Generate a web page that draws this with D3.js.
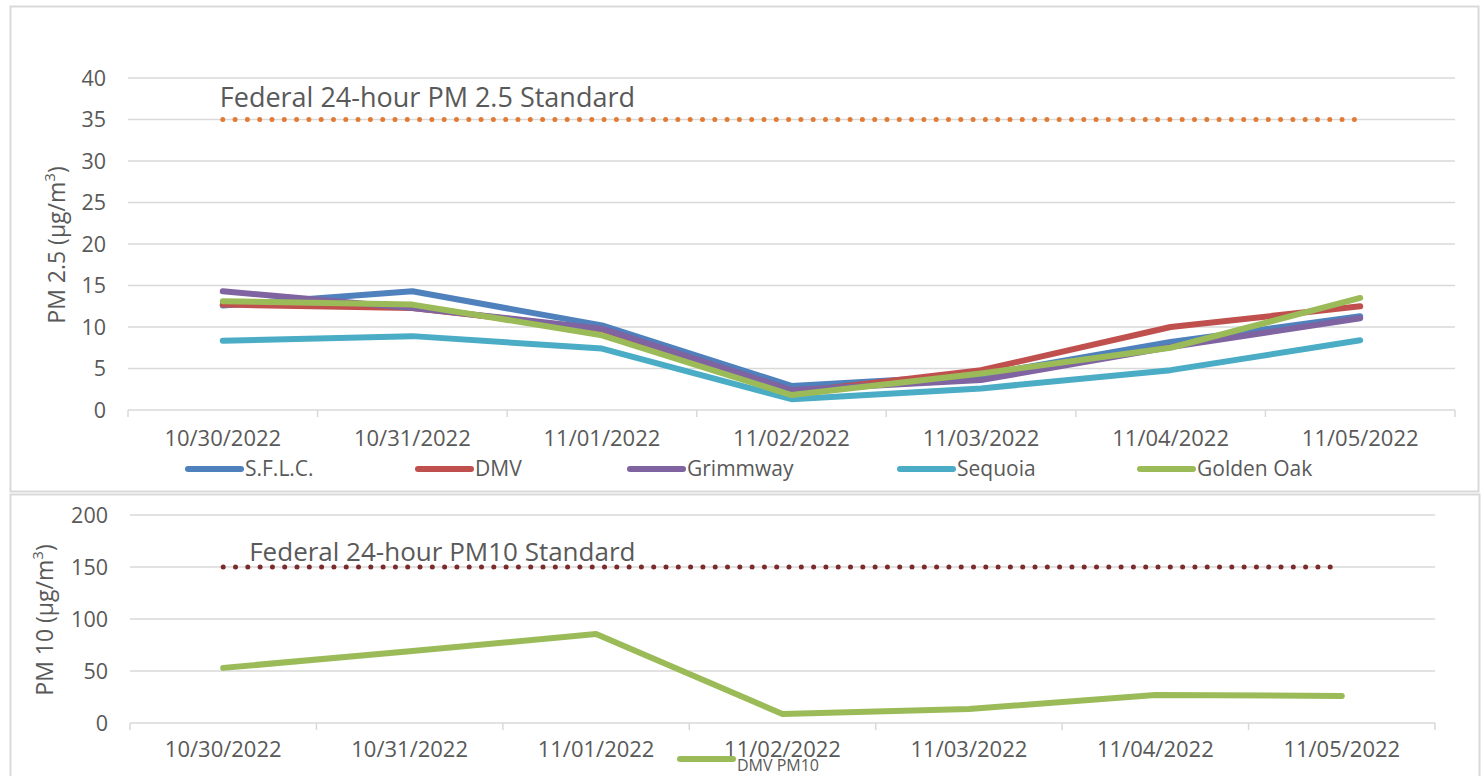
<!DOCTYPE html>
<html>
<head>
<meta charset="utf-8">
<script src="https://cdn.jsdelivr.net/npm/d3@7"></script>
<style>
  body { margin: 0; background: #fff; }
  text { font-family: "Open Sans", sans-serif; fill: #595959; }
</style>
</head>
<body>
<div id="chart-area"></div>
<script>
// data
var dates = ["10/30/2022", "10/31/2022", "11/01/2022", "11/02/2022", "11/03/2022", "11/04/2022", "11/05/2022"]
var sites = ["S.F.L.C.", "DMV", "Grimmway", "Sequoia", "Golden Oak"]
var sflc = [12.6, 14.3, 10.2, 2.9, 4.2, 8.2, 11.3]
var dmv = [12.7, 12.3, 9.7, 2.1, 4.8, 10.0, 12.5]
var grimmway = [14.3, 12.3, 9.8, 2.4, 3.6, 7.6, 11.05]
var sequoia = [8.35, 8.9, 7.4, 1.3, 2.6, 4.8, 8.4]
var goldenOak = [13.1, 12.7, 9.0, 1.8, 4.4, 7.5, 13.5]
var pm10 = [53, 69, 85.5, 8.7, 13.5, 27, 26]
var pm25Standard = 35
var pm10Standard = 150
var pm25Ticks = [0, 5, 10, 15, 20, 25, 30, 35, 40]
var pm10Ticks = [0, 50, 100, 150, 200]

var seriesValues = [sflc, dmv, grimmway, sequoia, goldenOak]
var colors = ["#4F81BD", "#C0504D", "#8064A2", "#4BACC6", "#9BBB59"]

var svg = d3.select("#chart-area")
    .append("svg")
    .attr("width", 1484)
    .attr("height", 776)

// panel frames
svg.append("rect")
    .attr("x", 10.5).attr("y", 6.5)
    .attr("width", 1468).attr("height", 485)
    .attr("fill", "none").attr("stroke", "#d9d9d9").attr("stroke-width", 2)
svg.append("rect")
    .attr("x", 10.5).attr("y", 494.5)
    .attr("width", 1469).attr("height", 300)
    .attr("fill", "none").attr("stroke", "#d9d9d9").attr("stroke-width", 2)

function drawPanel(opts) {
    var g = svg.append("g")
    var x = d3.scaleBand().domain(dates).range([opts.left, opts.right])
    var y = d3.scaleLinear().domain([0, opts.max]).range([opts.bottom, opts.top])

    // gridlines
    g.selectAll(".grid")
        .data(opts.ticks)
        .enter().append("line")
        .attr("x1", opts.left).attr("x2", opts.right)
        .attr("y1", d => y(d)).attr("y2", d => y(d))
        .attr("stroke", "#d9d9d9").attr("stroke-width", 1.5)

    // y tick labels
    g.selectAll(".ylab")
        .data(opts.ticks)
        .enter().append("text")
        .attr("x", opts.left - 22)
        .attr("y", d => y(d))
        .attr("dy", "0.35em")
        .attr("text-anchor", "end")
        .attr("font-size", "21.5px")
        .text(d => d)

    // x axis with tick marks at band edges
    var xAxis = g.append("g")
        .attr("transform", "translate(0," + opts.bottom + ")")
        .call(d3.axisBottom(x).tickSize(0).tickPadding(opts.labelPad))
    xAxis.select(".domain").remove()
    xAxis.selectAll("text")
        .attr("font-size", "22px")
        .attr("font-family", "Open Sans, sans-serif")
        .attr("fill", "#595959")
    var edges = dates.map(d => x(d)).concat([opts.right])
    g.selectAll(".xtick")
        .data(edges)
        .enter().append("line")
        .attr("x1", d => d).attr("x2", d => d)
        .attr("y1", opts.bottom).attr("y2", opts.bottom + 7)
        .attr("stroke", "#d9d9d9").attr("stroke-width", 1.5)

    // y axis title
    g.append("text")
        .attr("transform", "translate(" + opts.titleX + "," + opts.titleY + ") rotate(-90)")
        .attr("text-anchor", "middle")
        .attr("font-size", "23px")
        .html(opts.title)

    // standard line
    var cx = d => x(d) + x.bandwidth() / 2
    g.append("line")
        .attr("x1", cx(dates[0])).attr("x2", cx(dates[dates.length - 1]))
        .attr("y1", y(opts.standard)).attr("y2", y(opts.standard))
        .attr("stroke", opts.standardColor)
        .attr("stroke-width", 5)
        .attr("stroke-linecap", "round")
        .attr("stroke-dasharray", "0 12.3")
    g.append("text")
        .attr("x", cx(dates[0]) + opts.standardDx)
        .attr("y", y(opts.standard) + opts.standardDy)
        .attr("font-size", opts.standardSize)
        .text(opts.standardLabel)

    var line = d3.line()
        .x((d, i) => cx(dates[i]))
        .y(d => y(d))
    opts.series.forEach((vals, i) => {
        g.append("path")
            .attr("d", line(vals))
            .attr("fill", "none")
            .attr("stroke", opts.colors[i])
            .attr("stroke-width", 6)
            .attr("stroke-linecap", "round")
            .attr("stroke-linejoin", "round")
    })
    return g
}

drawPanel({
    left: 128, right: 1455, top: 78, bottom: 410, max: 40,
    ticks: pm25Ticks, labelPad: 20,
    title: "PM 2.5 (µg/m<tspan baseline-shift='super' font-size='15px'>3</tspan>)",
    titleX: 65, titleY: 245,
    standard: pm25Standard, standardColor: "#E27B35", standardDx: -3, standardDy: -13,
    standardSize: "27px",
    standardLabel: "Federal 24-hour PM 2.5 Standard",
    series: seriesValues, colors: colors
})

drawPanel({
    left: 130, right: 1435, top: 515, bottom: 723, max: 200,
    ticks: pm10Ticks, labelPad: 18,
    title: "PM 10 (µg/m<tspan baseline-shift='super' font-size='15px'>3</tspan>)",
    titleX: 53, titleY: 620,
    standard: pm10Standard, standardColor: "#7B2B2B", standardDx: 26, standardDy: -6,
    standardSize: "26px",
    standardLabel: "Federal 24-hour PM10 Standard",
    series: [pm10], colors: ["#9BBB59"]
})

// legends
var legendX = [188, 418, 630, 900, 1140]
var legend = svg.append("g")
    .selectAll("g")
    .data(sites)
    .enter().append("g")
    .attr("transform", (d, i) => "translate(" + legendX[i] + ",469)")
legend.append("line")
    .attr("x1", 0).attr("x2", 53)
    .attr("stroke", (d, i) => colors[i])
    .attr("stroke-width", 6)
    .attr("stroke-linecap", "round")
legend.append("text")
    .attr("x", 57)
    .attr("dy", "0.35em")
    .attr("font-size", "21px")
    .text(d => d)

var legend2 = svg.append("g").attr("transform", "translate(680,766)")
legend2.append("line")
    .attr("x1", 0).attr("x2", 53)
    .attr("y1", -7).attr("y2", -7)
    .attr("stroke", "#9BBB59")
    .attr("stroke-width", 6)
    .attr("stroke-linecap", "round")
legend2.append("text")
    .attr("x", 57)
    .attr("y", 5)
    .attr("font-size", "16px")
    .text("DMV PM10")
</script>
</body>
</html>
